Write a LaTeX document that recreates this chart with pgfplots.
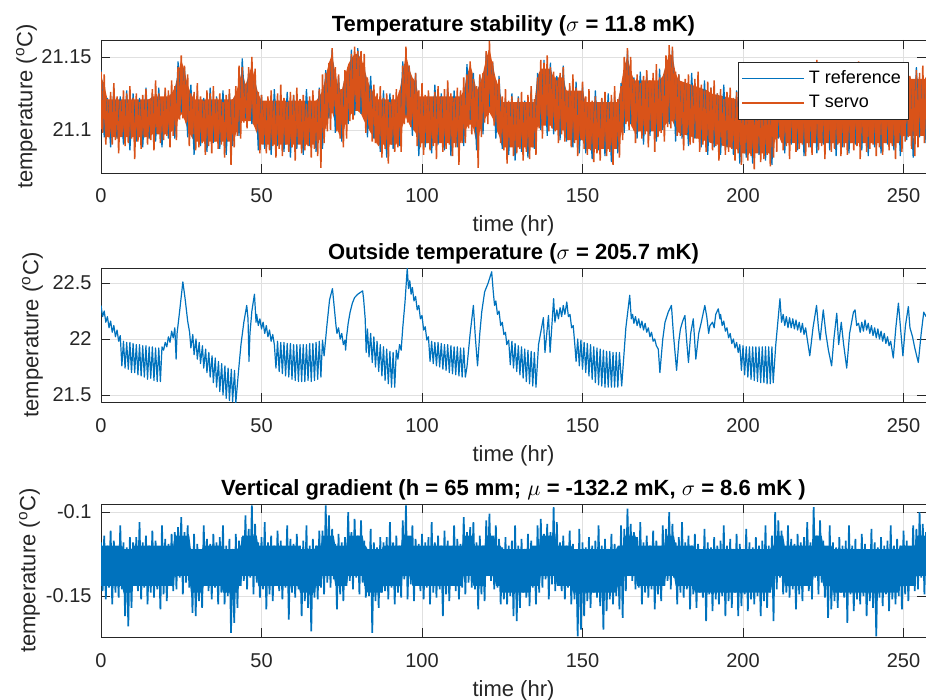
\documentclass[border=0pt]{standalone}
\usepackage{fontspec}
\setmainfont{Liberation Sans}
\usepackage{pgfplots}
\usepackage{pgfplotstable}
\usepgfplotslibrary{fillbetween}
\pgfplotsset{compat=1.18}
\definecolor{mblue}{rgb}{0,0.447,0.741}
\definecolor{morange}{rgb}{0.85,0.325,0.098}
\definecolor{mgray}{rgb}{0.15,0.15,0.15}

% T reference (blue), 1 h steps
\pgfplotstableread[row sep=\\]{t v\\
0 21.141\\1 21.095\\2 21.122\\3 21.088\\4 21.129\\5 21.094\\6 21.123\\7 21.090\\8 21.127\\9 21.086\\
10 21.125\\11 21.092\\12 21.122\\13 21.088\\14 21.129\\15 21.094\\16 21.125\\17 21.092\\18 21.129\\19 21.088\\
20 21.127\\21 21.094\\22 21.126\\23 21.094\\24 21.147\\25 21.112\\26 21.143\\27 21.095\\28 21.131\\29 21.083\\
30 21.125\\31 21.089\\32 21.122\\33 21.085\\34 21.129\\35 21.091\\36 21.123\\37 21.087\\38 21.127\\39 21.083\\
40 21.125\\41 21.089\\42 21.126\\43 21.096\\44 21.149\\45 21.108\\46 21.139\\47 21.104\\48 21.139\\49 21.086\\
50 21.124\\51 21.087\\52 21.121\\53 21.083\\54 21.128\\55 21.089\\56 21.122\\57 21.085\\58 21.126\\59 21.081\\
60 21.124\\61 21.087\\62 21.121\\63 21.083\\64 21.128\\65 21.089\\66 21.122\\67 21.085\\68 21.129\\69 21.087\\
70 21.141\\71 21.108\\72 21.155\\73 21.098\\74 21.137\\75 21.092\\76 21.139\\77 21.104\\78 21.155\\79 21.110\\
80 21.156\\81 21.111\\82 21.144\\83 21.095\\84 21.137\\85 21.094\\86 21.123\\87 21.085\\88 21.127\\89 21.081\\
90 21.125\\91 21.087\\92 21.122\\93 21.089\\94 21.147\\95 21.110\\96 21.144\\97 21.096\\98 21.139\\99 21.082\\
100 21.127\\101 21.088\\102 21.124\\103 21.084\\104 21.131\\105 21.090\\106 21.125\\107 21.086\\108 21.129\\109 21.082\\
110 21.127\\111 21.088\\112 21.124\\113 21.089\\114 21.145\\115 21.107\\116 21.139\\117 21.086\\118 21.137\\119 21.097\\
120 21.153\\121 21.116\\122 21.146\\123 21.094\\124 21.137\\125 21.087\\126 21.121\\127 21.083\\128 21.125\\129 21.079\\
130 21.123\\131 21.085\\132 21.120\\133 21.081\\134 21.127\\135 21.087\\136 21.139\\137 21.100\\138 21.148\\139 21.096\\
140 21.146\\141 21.097\\142 21.137\\143 21.093\\144 21.144\\145 21.092\\146 21.129\\147 21.088\\148 21.133\\149 21.084\\
150 21.131\\151 21.084\\152 21.120\\153 21.080\\154 21.127\\155 21.086\\156 21.121\\157 21.082\\158 21.125\\159 21.078\\
160 21.123\\161 21.084\\162 21.132\\163 21.098\\164 21.154\\165 21.104\\166 21.136\\167 21.094\\168 21.140\\169 21.090\\
170 21.138\\171 21.096\\172 21.135\\173 21.092\\174 21.142\\175 21.100\\176 21.147\\177 21.104\\178 21.155\\179 21.092\\
180 21.138\\181 21.094\\182 21.133\\183 21.089\\184 21.139\\185 21.094\\186 21.131\\187 21.088\\188 21.134\\189 21.083\\
190 21.129\\191 21.088\\192 21.125\\193 21.083\\194 21.131\\195 21.088\\196 21.124\\197 21.083\\198 21.127\\199 21.077\\
200 21.121\\201 21.081\\202 21.118\\203 21.077\\204 21.125\\205 21.083\\206 21.119\\207 21.079\\208 21.123\\209 21.076\\
210 21.133\\211 21.094\\212 21.128\\213 21.084\\214 21.135\\215 21.090\\216 21.129\\217 21.086\\218 21.133\\219 21.082\\
220 21.131\\221 21.088\\222 21.128\\223 21.084\\224 21.135\\225 21.090\\226 21.129\\227 21.086\\228 21.133\\229 21.082\\
230 21.131\\231 21.088\\232 21.128\\233 21.084\\234 21.135\\235 21.090\\236 21.129\\237 21.086\\238 21.133\\239 21.082\\
240 21.131\\241 21.088\\242 21.128\\243 21.084\\244 21.135\\245 21.090\\246 21.129\\247 21.086\\248 21.133\\249 21.082\\
250 21.139\\251 21.093\\252 21.136\\253 21.081\\254 21.143\\255 21.095\\256 21.137\\257 21.091\\
}\tabRef

% T servo (orange), 0.5 h steps
\pgfplotstableread[row sep=\\]{t v\\
0 21.140\\0.5 21.098\\1 21.138\\1.5 21.090\\2 21.121\\2.5 21.095\\3 21.126\\3.5 21.090\\4 21.132\\4.5 21.093\\
5 21.123\\5.5 21.084\\6 21.120\\6.5 21.096\\7 21.127\\7.5 21.089\\8 21.125\\8.5 21.091\\9 21.130\\9.5 21.094\\
10 21.122\\10.5 21.080\\11 21.125\\11.5 21.092\\12 21.119\\12.5 21.087\\13 21.124\\13.5 21.095\\14 21.128\\14.5 21.090\\
15 21.121\\15.5 21.093\\16 21.128\\16.5 21.086\\17 21.134\\17.5 21.098\\18 21.125\\18.5 21.091\\19 21.122\\19.5 21.093\\
20 21.129\\20.5 21.096\\21 21.127\\21.5 21.088\\22 21.134\\22.5 21.096\\23 21.130\\23.5 21.093\\24 21.143\\24.5 21.107\\
25 21.151\\25.5 21.108\\26 21.144\\26.5 21.105\\27 21.138\\27.5 21.089\\28 21.125\\28.5 21.097\\29 21.126\\29.5 21.086\\
30 21.132\\30.5 21.088\\31 21.123\\31.5 21.091\\32 21.120\\32.5 21.083\\33 21.127\\33.5 21.089\\34 21.125\\34.5 21.084\\
35 21.130\\35.5 21.092\\36 21.122\\36.5 21.087\\37 21.125\\37.5 21.090\\38 21.119\\38.5 21.081\\39 21.124\\39.5 21.093\\
40 21.128\\40.5 21.076\\41 21.121\\41.5 21.088\\42 21.130\\42.5 21.096\\43 21.144\\43.5 21.094\\44 21.143\\44.5 21.105\\
45 21.130\\45.5 21.101\\46 21.143\\46.5 21.109\\47 21.150\\47.5 21.104\\48 21.142\\48.5 21.099\\49 21.126\\49.5 21.084\\
50 21.124\\50.5 21.091\\51 21.118\\51.5 21.084\\52 21.123\\52.5 21.086\\53 21.127\\53.5 21.089\\54 21.120\\54.5 21.081\\
55 21.125\\55.5 21.087\\56 21.131\\56.5 21.082\\57 21.122\\57.5 21.090\\58 21.119\\58.5 21.085\\59 21.126\\59.5 21.088\\
60 21.124\\60.5 21.079\\61 21.129\\61.5 21.091\\62 21.121\\62.5 21.084\\63 21.124\\63.5 21.086\\64 21.118\\64.5 21.089\\
65 21.123\\65.5 21.081\\66 21.127\\66.5 21.087\\67 21.120\\67.5 21.082\\68 21.128\\68.5 21.074\\69 21.138\\69.5 21.091\\
70 21.139\\70.5 21.099\\71 21.146\\71.5 21.100\\72 21.156\\72.5 21.116\\73 21.143\\73.5 21.099\\74 21.138\\74.5 21.094\\
75 21.128\\75.5 21.088\\76 21.141\\76.5 21.094\\77 21.143\\77.5 21.106\\78 21.152\\78.5 21.107\\79 21.157\\79.5 21.119\\
80 21.154\\80.5 21.114\\81 21.154\\81.5 21.112\\82 21.152\\82.5 21.098\\83 21.136\\83.5 21.103\\84 21.128\\84.5 21.092\\
85 21.131\\85.5 21.091\\86 21.125\\86.5 21.089\\87 21.130\\87.5 21.081\\88 21.122\\88.5 21.087\\89 21.125\\89.5 21.077\\
90 21.119\\90.5 21.090\\91 21.124\\91.5 21.085\\92 21.128\\92.5 21.088\\93 21.127\\93.5 21.085\\94 21.144\\94.5 21.104\\
95 21.157\\95.5 21.105\\96 21.144\\96.5 21.102\\97 21.135\\97.5 21.100\\98 21.139\\98.5 21.089\\99 21.127\\99.5 21.088\\
100 21.132\\100.5 21.083\\101 21.124\\101.5 21.091\\102 21.127\\102.5 21.086\\103 21.121\\103.5 21.089\\104 21.126\\104.5 21.080\\
105 21.130\\105.5 21.092\\106 21.123\\106.5 21.085\\107 21.128\\107.5 21.087\\108 21.134\\108.5 21.090\\109 21.125\\109.5 21.082\\
110 21.122\\110.5 21.088\\111 21.129\\111.5 21.076\\112 21.127\\112.5 21.091\\113 21.136\\113.5 21.091\\114 21.138\\114.5 21.101\\
115 21.147\\115.5 21.097\\116 21.135\\116.5 21.102\\117 21.130\\117.5 21.074\\118 21.138\\118.5 21.095\\119 21.139\\119.5 21.105\\
120 21.154\\120.5 21.104\\121 21.161\\121.5 21.116\\122 21.147\\122.5 21.103\\123 21.134\\123.5 21.101\\124 21.135\\124.5 21.091\\
125 21.123\\125.5 21.086\\126 21.128\\126.5 21.077\\127 21.120\\127.5 21.089\\128 21.123\\128.5 21.082\\129 21.117\\129.5 21.084\\
130 21.122\\130.5 21.087\\131 21.126\\131.5 21.079\\132 21.119\\132.5 21.085\\133 21.124\\133.5 21.080\\134 21.130\\134.5 21.088\\
135 21.121\\135.5 21.083\\136 21.136\\136.5 21.101\\137 21.148\\137.5 21.094\\138 21.146\\138.5 21.106\\139 21.151\\139.5 21.099\\
140 21.143\\140.5 21.101\\141 21.140\\141.5 21.099\\142 21.134\\142.5 21.091\\143 21.139\\143.5 21.097\\144 21.143\\144.5 21.092\\
145 21.127\\145.5 21.093\\146 21.132\\146.5 21.088\\147 21.138\\147.5 21.091\\148 21.129\\148.5 21.082\\149 21.126\\149.5 21.094\\
150 21.133\\150.5 21.087\\151 21.123\\151.5 21.083\\152 21.128\\152.5 21.086\\153 21.120\\153.5 21.078\\154 21.123\\154.5 21.084\\
155 21.117\\155.5 21.079\\156 21.122\\156.5 21.087\\157 21.126\\157.5 21.082\\158 21.119\\158.5 21.085\\159 21.124\\159.5 21.076\\
160 21.130\\160.5 21.088\\161 21.121\\161.5 21.081\\162 21.130\\162.5 21.093\\163 21.150\\163.5 21.104\\164 21.156\\164.5 21.100\\
165 21.150\\165.5 21.102\\166 21.135\\166.5 21.091\\167 21.138\\167.5 21.099\\168 21.132\\168.5 21.094\\169 21.137\\169.5 21.097\\
170 21.141\\170.5 21.088\\171 21.134\\171.5 21.100\\172 21.139\\172.5 21.085\\173 21.145\\173.5 21.095\\174 21.136\\174.5 21.098\\
175 21.136\\175.5 21.092\\176 21.151\\176.5 21.102\\177 21.158\\177.5 21.101\\178 21.157\\178.5 21.107\\179 21.140\\179.5 21.096\\
180 21.138\\180.5 21.096\\181 21.131\\181.5 21.086\\182 21.135\\182.5 21.098\\183 21.138\\183.5 21.090\\184 21.131\\184.5 21.091\\
185 21.135\\185.5 21.094\\186 21.140\\186.5 21.085\\187 21.131\\187.5 21.090\\188 21.127\\188.5 21.085\\189 21.133\\189.5 21.092\\
190 21.129\\190.5 21.086\\191 21.134\\191.5 21.089\\192 21.125\\192.5 21.079\\193 21.128\\193.5 21.091\\194 21.121\\194.5 21.083\\
195 21.126\\195.5 21.085\\196 21.129\\196.5 21.087\\197 21.122\\197.5 21.079\\198 21.126\\198.5 21.084\\199 21.128\\199.5 21.076\\
200 21.119\\200.5 21.084\\201 21.116\\201.5 21.079\\202 21.123\\202.5 21.082\\203 21.121\\203.5 21.073\\204 21.126\\204.5 21.085\\
205 21.118\\205.5 21.078\\206 21.121\\206.5 21.080\\207 21.115\\207.5 21.083\\208 21.120\\208.5 21.075\\209 21.124\\209.5 21.081\\
210 21.129\\210.5 21.085\\211 21.144\\211.5 21.097\\212 21.138\\212.5 21.086\\213 21.129\\213.5 21.089\\214 21.126\\214.5 21.080\\
215 21.133\\215.5 21.092\\216 21.131\\216.5 21.085\\217 21.136\\217.5 21.087\\218 21.128\\218.5 21.090\\219 21.131\\219.5 21.082\\
220 21.125\\220.5 21.088\\221 21.130\\221.5 21.083\\222 21.134\\222.5 21.091\\223 21.148\\223.5 21.086\\224 21.132\\224.5 21.089\\
225 21.138\\225.5 21.080\\226 21.129\\226.5 21.092\\227 21.126\\227.5 21.085\\228 21.133\\228.5 21.087\\229 21.131\\229.5 21.090\\
230 21.136\\230.5 21.082\\231 21.128\\231.5 21.088\\232 21.131\\232.5 21.083\\233 21.125\\233.5 21.091\\234 21.130\\234.5 21.086\\
235 21.134\\235.5 21.089\\236 21.147\\236.5 21.080\\237 21.132\\237.5 21.092\\238 21.138\\238.5 21.085\\239 21.129\\239.5 21.087\\
240 21.126\\240.5 21.090\\241 21.133\\241.5 21.082\\242 21.131\\242.5 21.088\\243 21.136\\243.5 21.083\\244 21.128\\244.5 21.091\\
245 21.131\\245.5 21.086\\246 21.125\\246.5 21.089\\247 21.130\\247.5 21.080\\248 21.134\\248.5 21.092\\249 21.127\\249.5 21.085\\
250 21.140\\250.5 21.092\\251 21.146\\251.5 21.095\\252 21.137\\252.5 21.087\\253 21.134\\253.5 21.082\\254 21.141\\254.5 21.088\\
255 21.139\\255.5 21.096\\256 21.144\\256.5 21.091\\257 21.136\\
}\tabServo

% dense core of T servo (upper and lower edge of the solid band)
\pgfplotstableread[row sep=\\]{t hi lo\\
0 21.137 21.101\\1 21.131 21.098\\2 21.121 21.095\\15 21.121 21.095\\16 21.123 21.097\\21 21.123 21.097\\
22 21.125 21.099\\23 21.129 21.101\\24 21.139 21.107\\25 21.148 21.111\\26 21.141 21.107\\27 21.131 21.100\\
28 21.125 21.096\\29 21.121 21.092\\41 21.121 21.092\\42 21.125 21.097\\43 21.133 21.103\\44 21.141 21.106\\
45 21.131 21.106\\46 21.137 21.106\\47 21.145 21.106\\48 21.133 21.101\\49 21.125 21.095\\50 21.120 21.090\\
67 21.120 21.090\\68 21.123 21.093\\69 21.127 21.096\\70 21.137 21.101\\71 21.146 21.109\\72 21.152 21.112\\
73 21.139 21.105\\74 21.129 21.098\\75 21.127 21.093\\76 21.137 21.103\\77 21.145 21.108\\78 21.149 21.111\\
79 21.152 21.113\\80 21.152 21.113\\81 21.149 21.111\\82 21.143 21.106\\83 21.134 21.102\\84 21.129 21.098\\
85 21.125 21.095\\86 21.121 21.090\\92 21.121 21.090\\93 21.127 21.096\\94 21.139 21.103\\95 21.152 21.109\\
96 21.142 21.104\\97 21.136 21.101\\98 21.133 21.098\\99 21.123 21.091\\112 21.123 21.091\\113 21.127 21.096\\
114 21.137 21.102\\115 21.145 21.104\\116 21.137 21.101\\117 21.127 21.091\\118 21.131 21.099\\119 21.139 21.105\\
120 21.149 21.109\\121 21.156 21.112\\122 21.145 21.108\\123 21.135 21.101\\124 21.129 21.096\\125 21.119 21.088\\
135 21.119 21.088\\136 21.137 21.102\\137 21.142 21.103\\140 21.142 21.103\\141 21.136 21.100\\144 21.136 21.100\\
145 21.127 21.093\\150 21.127 21.093\\151 21.119 21.087\\161 21.119 21.087\\162 21.131 21.097\\163 21.144 21.104\\
164 21.150 21.106\\165 21.141 21.104\\166 21.134 21.099\\174 21.134 21.099\\175 21.137 21.101\\176 21.145 21.104\\
177 21.152 21.106\\178 21.151 21.106\\179 21.139 21.101\\180 21.134 21.098\\189 21.127 21.092\\190 21.125 21.091\\
198 21.121 21.087\\199 21.117 21.084\\209 21.117 21.084\\210 21.129 21.093\\211 21.139 21.097\\212 21.127 21.091\\
249 21.127 21.091\\250 21.135 21.096\\257 21.135 21.096\\
}\tabCore

% Outside temperature
\pgfplotstableread[row sep=\\]{t v\\
0 22.30\\0.5 22.20\\1 22.25\\1.5 22.15\\2 22.20\\2.5 22.10\\3 22.16\\3.5 22.06\\4 22.12\\4.5 22.02\\5 22.08\\5.5 21.98\\6 22.03\\
6.5 21.76\\7 21.98\\7.5 21.74\\8 21.97\\8.5 21.73\\9 21.97\\9.5 21.70\\10 21.96\\10.5 21.70\\11 21.95\\11.5 21.68\\12 21.95\\
12.5 21.67\\13 21.94\\13.5 21.66\\14 21.94\\14.5 21.64\\15 21.93\\15.5 21.65\\16 21.93\\16.5 21.63\\17 21.92\\17.5 21.62\\
18 21.92\\18.5 21.62\\19 21.93\\19.5 21.90\\20 21.97\\20.5 21.93\\21 22.02\\21.5 21.97\\22 22.07\\22.5 22.01\\23 22.10\\
23.4 21.82\\23.7 22.05\\24.5 22.25\\25.5 22.51\\26.2 22.36\\27 22.16\\27.6 22.06\\
28 21.92\\28.6 22.04\\29 21.86\\29.6 22.00\\30 21.82\\30.6 21.97\\31 21.78\\31.6 21.94\\32 21.74\\32.6 21.91\\
33 21.70\\33.6 21.88\\34 21.66\\34.6 21.85\\35 21.61\\35.6 21.83\\36 21.57\\36.6 21.80\\37 21.53\\37.6 21.78\\
38 21.50\\38.6 21.76\\39 21.47\\39.6 21.74\\40 21.45\\40.6 21.73\\41 21.44\\41.6 21.72\\42 21.43\\
42.8 21.70\\43.6 21.95\\44.5 22.15\\45.4 22.30\\45.8 22.18\\46.1 21.80\\46.4 22.05\\47 22.25\\47.8 22.40\\48.3 22.15\\
48.5 22.22\\49 22.12\\49.5 22.18\\50 22.09\\50.5 22.15\\51 22.05\\51.5 22.12\\52 22.02\\52.5 22.08\\53 21.98\\53.5 22.04\\54 21.95\\
54.5 21.74\\55 21.98\\55.5 21.71\\56 21.97\\56.5 21.69\\57 21.97\\57.5 21.67\\58 21.96\\58.5 21.66\\59 21.96\\
59.5 21.64\\60 21.95\\60.5 21.63\\61 21.95\\61.5 21.62\\62 21.95\\62.5 21.62\\63 21.95\\63.5 21.62\\64 21.95\\
64.5 21.63\\65 21.96\\65.5 21.62\\66 21.96\\66.5 21.63\\67 21.97\\67.5 21.64\\68 21.98\\68.5 21.66\\69 21.99\\
69.5 21.85\\70.3 22.10\\71.2 22.35\\72.1 22.45\\72.6 22.30\\73.2 22.12\\73.5 22.05\\74 22.10\\74.5 22.00\\75 22.05\\75.5 21.95\\76 21.99\\76.2 21.90\\
76.5 22.02\\77 22.14\\77.6 22.24\\78.3 22.32\\79 22.37\\80 22.40\\81 22.42\\81.5 22.43\\81.8 22.36\\82.3 22.18\\
82.6 21.88\\83 22.09\\83.5 21.84\\84 22.05\\84.5 21.79\\85 22.02\\85.5 21.75\\86 21.98\\86.5 21.71\\87 21.95\\
87.5 21.67\\88 21.93\\88.5 21.63\\89 21.91\\89.5 21.60\\90 21.89\\90.5 21.57\\91 21.88\\91.5 21.57\\
92 21.90\\92.5 21.82\\93 21.95\\93.5 21.90\\94 22.10\\94.7 22.33\\95.4 22.63\\
95.8 22.45\\96.2 22.52\\96.6 22.40\\97 22.46\\97.5 22.34\\98 22.38\\98.5 22.26\\99 22.30\\99.5 22.18\\100 22.21\\100.5 22.08\\101 22.11\\101.5 21.99\\102 22.02\\
102.5 21.80\\103 21.98\\103.5 21.78\\104 21.97\\104.5 21.76\\105 21.97\\105.5 21.75\\106 21.96\\106.5 21.73\\107 21.95\\
107.5 21.72\\108 21.95\\108.5 21.70\\109 21.94\\109.5 21.69\\110 21.93\\110.5 21.68\\111 21.93\\111.5 21.67\\112 21.92\\112.5 21.66\\113 21.92\\113.5 21.66\\
114 21.75\\115 22.05\\116 22.30\\116.6 22.02\\117.3 21.76\\118 22.05\\118.6 22.24\\119.5 22.42\\120.6 22.50\\121.7 22.60\\122.2 22.42\\
122.6 22.30\\123 22.34\\123.5 22.22\\124 22.25\\124.5 22.12\\125 22.15\\125.5 22.04\\126 22.06\\126.4 21.95\\
127 21.99\\127.5 21.77\\128 21.98\\128.5 21.74\\129 21.96\\129.5 21.71\\130 21.94\\130.5 21.68\\131 21.93\\131.5 21.65\\
132 21.91\\132.5 21.62\\133 21.90\\133.5 21.60\\134 21.89\\134.5 21.58\\135 21.88\\135.5 21.57\\
136.3 21.95\\137.8 22.19\\138.3 21.88\\139.4 22.21\\139.9 21.88\\141.0 22.36\\141.4 22.15\\142 22.26\\142.5 22.18\\143 22.28\\
143.5 22.20\\144 22.30\\144.5 22.22\\145.1 22.33\\145.6 22.20\\146.1 22.22\\146.6 22.10\\147.1 22.12\\147.6 21.95\\
148 21.80\\148.5 22.00\\149 21.76\\149.5 21.99\\150 21.73\\150.5 21.97\\151 21.70\\151.5 21.96\\152 21.67\\152.5 21.95\\
153 21.64\\153.5 21.93\\154 21.61\\154.5 21.92\\155 21.59\\155.5 21.91\\156 21.58\\156.5 21.90\\157 21.57\\157.5 21.89\\
158 21.57\\158.5 21.89\\159 21.57\\159.5 21.88\\160 21.57\\160.5 21.88\\161 21.57\\161.5 21.88\\162.2 21.58\\
163.5 22.10\\164.7 22.39\\165.2 22.18\\165.6 22.22\\166 22.14\\166.5 22.20\\167 22.12\\167.5 22.18\\168 22.10\\168.5 22.16\\
169 22.08\\169.5 22.14\\170 22.06\\170.5 22.10\\171 22.02\\171.5 22.06\\172 21.98\\172.5 22.00\\173 21.94\\173.6 21.91\\
174.1 21.70\\175 22.00\\175.7 22.15\\176.7 22.24\\177.7 22.30\\178.3 22.05\\179.3 21.72\\180 21.98\\180.5 22.09\\181.2 22.16\\
181.9 22.21\\182.4 22.00\\183 21.79\\183.7 22.05\\184.5 22.18\\185.3 21.82\\186.2 22.05\\187 22.15\\188.1 22.30\\188.7 22.20\\
189.3 22.05\\189.7 22.12\\190.5 22.15\\191 22.10\\191.5 22.22\\192.3 22.27\\192.8 22.18\\193 22.22\\193.5 22.12\\194 22.16\\
194.5 22.07\\195 22.10\\195.5 22.01\\196 22.05\\196.5 21.96\\197 22.00\\197.5 21.92\\198 21.97\\198.5 21.88\\199 21.95\\
199.5 21.72\\200 21.94\\200.5 21.68\\201 21.93\\201.5 21.66\\202 21.93\\202.5 21.64\\203 21.93\\203.5 21.63\\204 21.93\\
204.5 21.62\\205 21.93\\205.5 21.61\\206 21.93\\206.5 21.61\\207 21.93\\207.5 21.60\\208 21.93\\208.5 21.60\\209 21.93\\209.4 21.61\\
210.2 21.95\\211.5 22.36\\212 22.15\\212.5 22.22\\213 22.12\\213.5 22.20\\214 22.10\\214.5 22.19\\215 22.10\\215.5 22.18\\
216 22.09\\216.5 22.17\\217 22.08\\217.5 22.15\\218 22.06\\218.5 22.14\\219 22.04\\219.5 22.10\\220 22.00\\220.8 21.85\\
221.8 22.10\\222.9 22.30\\223.5 22.10\\224 21.99\\225 22.26\\225.8 22.05\\226.6 21.90\\227.6 21.76\\228.3 22.00\\229.2 22.23\\
229.8 21.95\\230.6 22.15\\231.3 21.96\\232.3 21.74\\233.2 22.05\\234.4 22.24\\234.9 22.26\\235.4 22.12\\
236 22.14\\236.5 22.06\\237 22.15\\237.5 22.07\\238 22.17\\238.5 22.08\\239 22.14\\239.5 22.05\\240 22.12\\240.5 22.03\\
241 22.10\\241.5 22.01\\242 22.09\\242.5 22.00\\243 22.07\\243.5 21.98\\244 22.05\\244.5 21.96\\245 22.02\\245.5 21.94\\246 21.98\\
246.8 21.83\\247.6 22.10\\248.4 22.32\\249.2 22.05\\249.8 21.85\\250.6 22.12\\251.5 22.29\\252 22.10\\252.8 22.02\\253.5 21.92\\
254.6 21.79\\255.5 22.05\\256.3 22.24\\257 22.20\\
}\tabOut

% Vertical gradient, 0.5 h steps
\pgfplotstableread[row sep=\\]{t v\\
0 -0.118\\0.5 -0.147\\1 -0.114\\1.5 -0.152\\2 -0.120\\2.5 -0.145\\3 -0.111\\3.5 -0.155\\4 -0.117\\4.5 -0.148\\
5 -0.121\\5.5 -0.151\\6 -0.108\\6.5 -0.146\\7 -0.118\\7.5 -0.162\\8 -0.121\\8.5 -0.168\\9 -0.115\\9.5 -0.157\\
10 -0.118\\10.5 -0.144\\11 -0.115\\11.5 -0.147\\12 -0.106\\12.5 -0.152\\13 -0.118\\13.5 -0.145\\14 -0.114\\14.5 -0.155\\
15 -0.120\\15.5 -0.148\\16 -0.111\\16.5 -0.151\\17 -0.117\\17.5 -0.146\\18 -0.121\\18.5 -0.158\\19 -0.108\\19.5 -0.149\\
20 -0.116\\20.5 -0.153\\21 -0.119\\21.5 -0.144\\22 -0.113\\22.5 -0.147\\23 -0.112\\23.5 -0.146\\24 -0.109\\24.5 -0.139\\
25 -0.103\\25.5 -0.149\\26 -0.112\\26.5 -0.142\\27 -0.108\\27.5 -0.145\\28 -0.122\\28.5 -0.160\\29 -0.113\\29.5 -0.162\\
30 -0.119\\30.5 -0.153\\31 -0.123\\31.5 -0.157\\32 -0.108\\32.5 -0.144\\33 -0.116\\33.5 -0.147\\34 -0.119\\34.5 -0.152\\
35 -0.113\\35.5 -0.145\\36 -0.118\\36.5 -0.155\\37 -0.115\\37.5 -0.148\\38 -0.108\\38.5 -0.155\\39 -0.120\\39.5 -0.150\\
40 -0.116\\40.5 -0.172\\41 -0.122\\41.5 -0.166\\42 -0.113\\42.5 -0.157\\43 -0.117\\43.5 -0.144\\44 -0.115\\44.5 -0.141\\
45 -0.102\\45.5 -0.146\\46 -0.110\\46.5 -0.139\\47 -0.096\\47.5 -0.149\\48 -0.107\\48.5 -0.142\\49 -0.118\\49.5 -0.151\\
50 -0.115\\50.5 -0.146\\51 -0.106\\51.5 -0.158\\52 -0.118\\52.5 -0.149\\53 -0.114\\53.5 -0.153\\54 -0.120\\54.5 -0.144\\
55 -0.111\\55.5 -0.147\\56 -0.117\\56.5 -0.152\\57 -0.121\\57.5 -0.145\\58 -0.108\\58.5 -0.164\\59 -0.116\\59.5 -0.148\\
60 -0.119\\60.5 -0.151\\61 -0.113\\61.5 -0.146\\62 -0.120\\62.5 -0.162\\63 -0.117\\63.5 -0.153\\64 -0.108\\64.5 -0.157\\
65 -0.120\\65.5 -0.171\\66 -0.116\\66.5 -0.151\\67 -0.120\\67.5 -0.152\\68 -0.111\\68.5 -0.145\\69 -0.111\\69.5 -0.149\\
70 -0.096\\70.5 -0.142\\71 -0.102\\71.5 -0.145\\72 -0.110\\72.5 -0.140\\73 -0.119\\73.5 -0.158\\74 -0.113\\74.5 -0.149\\
75 -0.118\\75.5 -0.153\\76 -0.115\\76.5 -0.144\\77 -0.100\\77.5 -0.141\\78 -0.112\\78.5 -0.146\\79 -0.104\\79.5 -0.139\\
80 -0.114\\80.5 -0.149\\81 -0.105\\81.5 -0.142\\82 -0.117\\82.5 -0.151\\83 -0.123\\83.5 -0.150\\84 -0.110\\84.5 -0.172\\
85 -0.118\\85.5 -0.153\\86 -0.121\\86.5 -0.157\\87 -0.115\\87.5 -0.148\\88 -0.118\\88.5 -0.147\\89 -0.115\\89.5 -0.152\\
90 -0.106\\90.5 -0.145\\91 -0.118\\91.5 -0.155\\92 -0.114\\92.5 -0.148\\93 -0.120\\93.5 -0.151\\94 -0.105\\94.5 -0.140\\
95 -0.096\\95.5 -0.152\\96 -0.115\\96.5 -0.143\\97 -0.108\\97.5 -0.153\\98 -0.116\\98.5 -0.144\\99 -0.119\\99.5 -0.147\\
100 -0.113\\100.5 -0.152\\101 -0.118\\101.5 -0.145\\102 -0.115\\102.5 -0.155\\103 -0.106\\103.5 -0.148\\104 -0.118\\104.5 -0.151\\
105 -0.114\\105.5 -0.146\\106 -0.120\\106.5 -0.162\\107 -0.111\\107.5 -0.149\\108 -0.117\\108.5 -0.153\\109 -0.121\\109.5 -0.144\\
110 -0.108\\110.5 -0.147\\111 -0.116\\111.5 -0.152\\112 -0.119\\112.5 -0.145\\113 -0.103\\113.5 -0.149\\114 -0.112\\114.5 -0.142\\
115 -0.109\\115.5 -0.145\\116 -0.106\\116.5 -0.146\\117 -0.118\\117.5 -0.158\\118 -0.114\\118.5 -0.149\\119 -0.120\\119.5 -0.153\\
120 -0.105\\120.5 -0.138\\121 -0.101\\121.5 -0.141\\122 -0.115\\122.5 -0.146\\123 -0.108\\123.5 -0.145\\124 -0.116\\124.5 -0.155\\
125 -0.121\\125.5 -0.152\\126 -0.115\\126.5 -0.155\\127 -0.120\\127.5 -0.150\\128 -0.117\\128.5 -0.162\\129 -0.108\\129.5 -0.165\\
130 -0.120\\130.5 -0.157\\131 -0.116\\131.5 -0.148\\132 -0.122\\132.5 -0.151\\133 -0.113\\133.5 -0.156\\134 -0.117\\134.5 -0.145\\
135 -0.121\\135.5 -0.155\\136 -0.108\\136.5 -0.148\\137 -0.104\\137.5 -0.145\\138 -0.113\\138.5 -0.140\\139 -0.107\\139.5 -0.152\\
140 -0.112\\140.5 -0.143\\141 -0.097\\141.5 -0.147\\142 -0.106\\142.5 -0.144\\143 -0.118\\143.5 -0.147\\144 -0.114\\144.5 -0.152\\
145 -0.120\\145.5 -0.145\\146 -0.111\\146.5 -0.155\\147 -0.119\\147.5 -0.152\\148 -0.123\\148.5 -0.174\\149 -0.110\\149.5 -0.170\\
150 -0.118\\150.5 -0.162\\151 -0.121\\151.5 -0.153\\152 -0.115\\152.5 -0.157\\153 -0.120\\153.5 -0.148\\154 -0.117\\154.5 -0.151\\
155 -0.108\\155.5 -0.156\\156 -0.120\\156.5 -0.170\\157 -0.116\\157.5 -0.159\\158 -0.122\\158.5 -0.152\\159 -0.113\\159.5 -0.155\\
160 -0.119\\160.5 -0.150\\161 -0.121\\161.5 -0.158\\162 -0.108\\162.5 -0.163\\163 -0.110\\163.5 -0.147\\164 -0.098\\164.5 -0.138\\
165 -0.107\\165.5 -0.141\\166 -0.112\\166.5 -0.146\\167 -0.115\\167.5 -0.145\\168 -0.106\\168.5 -0.155\\169 -0.118\\169.5 -0.148\\
170 -0.114\\170.5 -0.151\\171 -0.120\\171.5 -0.146\\172 -0.111\\172.5 -0.158\\173 -0.117\\173.5 -0.149\\174 -0.121\\174.5 -0.153\\
175 -0.108\\175.5 -0.144\\176 -0.110\\176.5 -0.141\\177 -0.100\\177.5 -0.146\\178 -0.107\\178.5 -0.139\\179 -0.118\\179.5 -0.155\\
180 -0.115\\180.5 -0.148\\181 -0.106\\181.5 -0.151\\182 -0.118\\182.5 -0.146\\183 -0.114\\183.5 -0.158\\184 -0.120\\184.5 -0.149\\
185 -0.113\\185.5 -0.157\\186 -0.119\\186.5 -0.148\\187 -0.123\\187.5 -0.151\\188 -0.110\\188.5 -0.165\\189 -0.118\\189.5 -0.149\\
190 -0.121\\190.5 -0.159\\191 -0.115\\191.5 -0.152\\192 -0.120\\192.5 -0.155\\193 -0.117\\193.5 -0.150\\194 -0.108\\194.5 -0.162\\
195 -0.120\\195.5 -0.153\\196 -0.116\\196.5 -0.157\\197 -0.122\\197.5 -0.148\\198 -0.113\\198.5 -0.162\\199 -0.119\\199.5 -0.156\\
200 -0.123\\200.5 -0.149\\201 -0.110\\201.5 -0.159\\202 -0.118\\202.5 -0.152\\203 -0.121\\203.5 -0.155\\204 -0.115\\204.5 -0.150\\
205 -0.120\\205.5 -0.162\\206 -0.117\\206.5 -0.153\\207 -0.108\\207.5 -0.157\\208 -0.120\\208.5 -0.148\\209 -0.114\\209.5 -0.165\\
210 -0.100\\210.5 -0.146\\211 -0.105\\211.5 -0.139\\212 -0.111\\212.5 -0.149\\213 -0.121\\213.5 -0.148\\214 -0.108\\214.5 -0.151\\
215 -0.116\\215.5 -0.146\\216 -0.119\\216.5 -0.158\\217 -0.113\\217.5 -0.149\\218 -0.118\\218.5 -0.153\\219 -0.115\\219.5 -0.144\\
220 -0.106\\220.5 -0.147\\221 -0.118\\221.5 -0.152\\222 -0.097\\222.5 -0.139\\223 -0.114\\223.5 -0.149\\224 -0.105\\224.5 -0.142\\
225 -0.117\\225.5 -0.151\\226 -0.121\\226.5 -0.163\\227 -0.108\\227.5 -0.158\\228 -0.118\\228.5 -0.153\\229 -0.121\\229.5 -0.157\\
230 -0.115\\230.5 -0.148\\231 -0.120\\231.5 -0.151\\232 -0.117\\232.5 -0.166\\233 -0.108\\233.5 -0.149\\234 -0.120\\234.5 -0.159\\
235 -0.116\\235.5 -0.152\\236 -0.122\\236.5 -0.155\\237 -0.113\\237.5 -0.150\\238 -0.119\\238.5 -0.162\\239 -0.123\\239.5 -0.153\\
240 -0.110\\240.5 -0.157\\241 -0.118\\241.5 -0.174\\242 -0.121\\242.5 -0.151\\243 -0.115\\243.5 -0.156\\244 -0.120\\244.5 -0.149\\
245 -0.117\\245.5 -0.159\\246 -0.108\\246.5 -0.152\\247 -0.120\\247.5 -0.155\\248 -0.116\\248.5 -0.150\\249 -0.120\\249.5 -0.158\\
250 -0.111\\250.5 -0.149\\251 -0.117\\251.5 -0.153\\252 -0.121\\252.5 -0.144\\253 -0.108\\253.5 -0.147\\254 -0.110\\254.5 -0.146\\
255 -0.100\\255.5 -0.139\\256 -0.107\\256.5 -0.149\\257 -0.112\\
}\tabGrad

% dense core of the gradient band
\pgfplotstableread[row sep=\\]{t hi lo\\
0 -0.120 -0.144\\6.5 -0.120 -0.144\\7 -0.122 -0.148\\9.5 -0.122 -0.148\\10 -0.120 -0.144\\22.5 -0.120 -0.144\\
23 -0.114 -0.138\\27.5 -0.114 -0.138\\28 -0.122 -0.148\\31.5 -0.122 -0.148\\32 -0.120 -0.144\\37.5 -0.120 -0.144\\
38 -0.122 -0.148\\42.5 -0.122 -0.148\\43 -0.120 -0.144\\43.5 -0.120 -0.144\\44 -0.114 -0.138\\48.5 -0.114 -0.138\\
49 -0.120 -0.144\\61.5 -0.120 -0.144\\62 -0.122 -0.148\\66.5 -0.122 -0.148\\67 -0.120 -0.144\\68.5 -0.120 -0.144\\
69 -0.114 -0.138\\72.5 -0.114 -0.138\\73 -0.120 -0.144\\76.5 -0.120 -0.144\\77 -0.114 -0.138\\81.5 -0.114 -0.138\\
82 -0.120 -0.144\\82.5 -0.120 -0.144\\83 -0.122 -0.148\\87.5 -0.122 -0.148\\88 -0.120 -0.144\\93.5 -0.120 -0.144\\
94 -0.114 -0.138\\96.5 -0.114 -0.138\\97 -0.120 -0.144\\112.5 -0.120 -0.144\\113 -0.114 -0.138\\115.5 -0.114 -0.138\\
116 -0.120 -0.144\\119.5 -0.120 -0.144\\120 -0.114 -0.138\\122.5 -0.114 -0.138\\123 -0.120 -0.144\\124.5 -0.120 -0.144\\
125 -0.122 -0.148\\133.5 -0.122 -0.148\\134 -0.120 -0.144\\136.5 -0.120 -0.144\\137 -0.114 -0.138\\141.5 -0.114 -0.138\\
142 -0.120 -0.144\\146.5 -0.120 -0.144\\147 -0.122 -0.148\\160.5 -0.122 -0.148\\161 -0.120 -0.144\\162.5 -0.120 -0.144\\
163 -0.114 -0.138\\166.5 -0.114 -0.138\\167 -0.120 -0.144\\175.5 -0.120 -0.144\\176 -0.114 -0.138\\178.5 -0.114 -0.138\\
179 -0.120 -0.144\\184.5 -0.120 -0.144\\185 -0.122 -0.148\\208.5 -0.122 -0.148\\209 -0.120 -0.144\\209.5 -0.120 -0.144\\
210 -0.114 -0.138\\212.5 -0.114 -0.138\\213 -0.120 -0.144\\221.5 -0.120 -0.144\\222 -0.114 -0.138\\224.5 -0.114 -0.138\\
225 -0.120 -0.144\\227.5 -0.120 -0.144\\228 -0.122 -0.148\\248.5 -0.122 -0.148\\249 -0.120 -0.144\\253.5 -0.120 -0.144\\
254 -0.114 -0.138\\257 -0.114 -0.138\\
}\tabGcore

\pgfplotsset{
  every axis title/.style={at={(axis description cs:0.5,1)}, anchor=base, yshift=4.25pt,
      font=\bfseries\fontsize{11}{13}\selectfont},
  mstyle/.style={
    scale only axis, width=412.5pt, xmin=0, xmax=257,
    xtick={0,50,100,150,200,250},
    grid=major, major grid style={line width=0.35pt, draw=black!12},
    axis line style={draw=mgray, line width=0.4pt},
    every tick/.style={draw=mgray, line width=0.4pt},
    major tick length=4.5pt, tick align=inside,
    tick label style={font=\fontsize{10}{12}\selectfont, text=mgray},
    /pgf/number format/assume math mode=true,
    xticklabel style={anchor=base, yshift=-15pt},
    yticklabel style={xshift=-1.2pt},
    xlabel={time (hr)},
    xlabel style={at={(axis description cs:0.5,0)}, anchor=base, yshift=-29.5pt,
      font=\fontsize{11}{13}\selectfont, text=mgray},
    ylabel={temperature (\textsuperscript{o}C)},
    ylabel style={anchor=base, font=\fontsize{11}{13}\selectfont, text=mgray},
    line join=bevel,
  }
}

\begin{document}
\begin{tikzpicture}
\begin{axis}[mstyle, at={(50.5pt,-20pt)}, anchor=north west, height=66.5pt,
  ymin=21.0705, ymax=21.1616, ytick={21.1,21.15}, yticklabels={21.1,21.15},
  ylabel style={at={(axis description cs:-0.0833,0.5)}},
  title={Temperature stability ($\sigma$ = 11.8 mK)},
  legend style={at={(0.772,0.835)}, anchor=north west, draw=mgray, line width=0.4pt,
    font=\fontsize{9}{11}\selectfont, inner xsep=1.5pt, inner ysep=2pt, row sep=0.6pt},
  legend cell align=left,
  legend image code/.code={\draw[#1] (0pt,0pt) -- (31pt,0pt);}]
\addlegendimage{draw=mblue, line width=0.8pt}
\addlegendentry{T reference}
\addlegendimage{draw=morange, line width=0.8pt}
\addlegendentry{T servo}
\addplot[mblue, line width=0.6pt, forget plot] table[x=t, y=v] {\tabRef};
\addplot[draw=none, forget plot, name path=ch] table[x=t, y=hi] {\tabCore};
\addplot[draw=none, forget plot, name path=cl] table[x=t, y=lo] {\tabCore};
\addplot[morange, forget plot] fill between[of=ch and cl];
\addplot[morange, line width=0.75pt, forget plot] table[x=t, y=v] {\tabServo};
\end{axis}

\begin{axis}[mstyle, at={(50.5pt,-134pt)}, anchor=north west, height=67pt,
  ymin=21.4375, ymax=22.634, ytick={21.5,22,22.5}, yticklabels={21.5,22,22.5},
  ylabel style={at={(axis description cs:-0.076,0.5)}},
  title={Outside temperature ($\sigma$ = 205.7 mK)}]
\addplot[mblue, line width=0.6pt, line join=round] table[x=t, y=v] {\tabOut};
\end{axis}

\begin{axis}[mstyle, at={(50.5pt,-252pt)}, anchor=north west, height=66.5pt,
  ymin=-0.1744, ymax=-0.0952, ytick={-0.15,-0.1}, yticklabels={-0.15,-0.1},
  ylabel style={at={(axis description cs:-0.0796,0.5)}},
  title={Vertical gradient (h = 65 mm; $\mu$ = -132.2 mK, $\sigma$ = 8.6 mK )}]
\addplot[draw=none, forget plot, name path=gh] table[x=t, y=hi] {\tabGcore};
\addplot[draw=none, forget plot, name path=gl] table[x=t, y=lo] {\tabGcore};
\addplot[mblue, forget plot] fill between[of=gh and gl];
\addplot[mblue, line width=0.85pt] table[x=t, y=v] {\tabGrad};
\end{axis}

\pgfresetboundingbox
\useasboundingbox (0,0) rectangle (463pt,-350pt);
\end{tikzpicture}
\end{document}
